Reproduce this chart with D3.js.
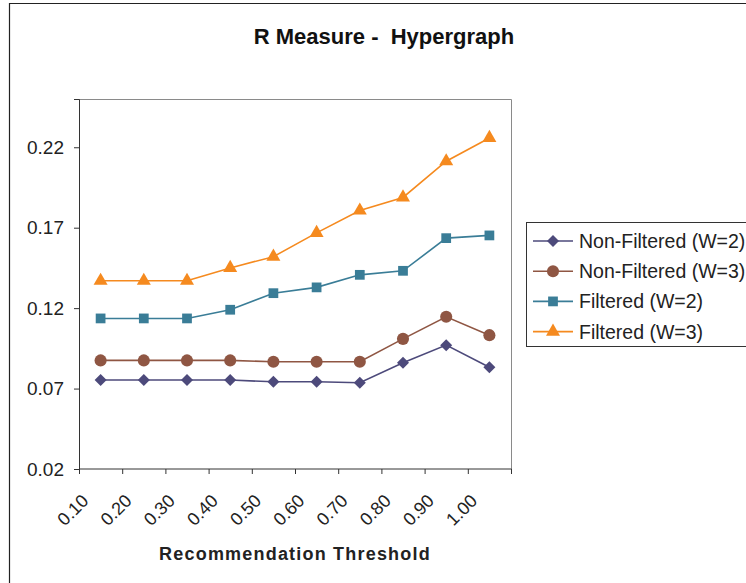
<!DOCTYPE html>
<html><head><meta charset="utf-8">
<script src="https://cdn.jsdelivr.net/npm/d3@7"></script>
<style>body{margin:0;background:#fff}svg{display:block;font-family:"Liberation Sans",Arial,sans-serif}</style>
</head><body>
<svg id="c" width="746" height="583"></svg>
<script>
const categories = ["0.10","0.20","0.30","0.40","0.50","0.60","0.70","0.80","0.90","1.00"];
const yTicks = [0.02,0.07,0.12,0.17,0.22];
const seriesNames = ["Non-Filtered (W=2)","Non-Filtered (W=3)","Filtered (W=2)","Filtered (W=3)"];
const nonFilteredW2 = [0.0753,0.0753,0.0753,0.0753,0.0742,0.0742,0.0736,0.0860,0.0970,0.0832];
const nonFilteredW3 = [0.0875,0.0875,0.0875,0.0875,0.0867,0.0867,0.0867,0.1009,0.1146,0.1032];
const filteredW2 = [0.1136,0.1136,0.1136,0.1190,0.1293,0.1329,0.1407,0.1432,0.1635,0.1652];
const filteredW3 = [0.1370,0.1370,0.1370,0.1450,0.1520,0.1668,0.1807,0.1888,0.2113,0.2258];
const colors = ["#4D4A7B","#8F5643","#3A7D97","#F58A1F"];
const shapes = [d3.symbolSquare, d3.symbolCircle, d3.symbolSquare, d3.symbolTriangle];
const rots = [45, 0, 0, 0];
const sizes = [72, 115, 95, 85];
const allSeries = [nonFilteredW2, nonFilteredW3, filteredW2, filteredW3];

const svg = d3.select("#c");
const L = 79, R = 511, T = 99, B = 469;

// outer frame
svg.append("path").attr("d","M9.5,600 V3.5 H760").attr("fill","none").attr("stroke","#222").attr("stroke-width",1.2);

svg.append("text").attr("x",384).attr("y",44).attr("text-anchor","middle")
  .attr("font-size",22).attr("font-weight","bold").attr("fill","#111")
  .style("white-space","pre").text("R Measure -  Hypergraph");

const x = d3.scaleBand().domain(categories).range([L,R]).padding(0);
const y = d3.scaleLinear().domain([0.02,0.25]).range([B,T]);

// plot area border
svg.append("path").attr("d",`M${L},${T+0.5} H${R+0.5} V${B}`).attr("fill","none").attr("stroke","#8a8a8a").attr("stroke-width",1);

// y axis
const ya = svg.append("g").attr("transform",`translate(${L},0)`)
  .call(d3.axisLeft(y).tickValues(yTicks).tickFormat(d3.format(".2f")).tickSize(5).tickPadding(10));
ya.select(".domain").attr("stroke","#333");
ya.selectAll(".tick line").attr("stroke","#333");
ya.selectAll("text").attr("font-size",19).attr("fill","#222").attr("font-family","Liberation Sans, Arial, sans-serif");

// x axis with ticks at band boundaries
const xa = svg.append("g").attr("transform",`translate(0,${B})`);
xa.append("line").attr("x1",L).attr("x2",R+0.5).attr("stroke","#333");
const bounds = categories.map(c=>x(c)).concat([R]);
xa.selectAll("line.t").data(bounds).join("line").attr("class","t")
  .attr("x1",d=>d+0.5).attr("x2",d=>d+0.5).attr("y1",0).attr("y2",5).attr("stroke","#333");
xa.selectAll("text").data(categories).join("text")
  .attr("transform",d=>`translate(${x(d)+x.bandwidth()/2-11},${33}) rotate(-45)`)
  .attr("text-anchor","end").attr("font-size",18).attr("fill","#222").text(d=>d);

svg.append("text").attr("x",295).attr("y",560).attr("text-anchor","middle")
  .attr("font-size",18).attr("font-weight","bold").attr("fill","#222")
  .style("letter-spacing","1.2px").text("Recommendation Threshold");

// series
const line = d3.line().x((d,i)=>x(categories[i])+x.bandwidth()/2).y(d=>y(d));
allSeries.forEach((s,k)=>{
  svg.append("path").datum(s).attr("d",line).attr("fill","none").attr("stroke",colors[k]).attr("stroke-width",1.6);
  svg.selectAll(null).data(s).join("path")
    .attr("transform",(d,i)=>`translate(${x(categories[i])+x.bandwidth()/2},${y(d)}) rotate(${rots[k]})`)
    .attr("d",d3.symbol().type(shapes[k]).size(sizes[k])).attr("fill",colors[k]);
});

// legend
const lg = svg.append("g");
lg.append("rect").attr("x",526.5).attr("y",222.5).attr("width",260).attr("height",124).attr("fill","#fff").attr("stroke","#333");
seriesNames.forEach((n,k)=>{
  const yy = 241 + k*30.2;
  lg.append("line").attr("x1",533).attr("x2",573).attr("y1",yy).attr("y2",yy).attr("stroke",colors[k]).attr("stroke-width",1.6);
  lg.append("path").attr("transform",`translate(553,${yy}) rotate(${rots[k]})`).attr("d",d3.symbol().type(shapes[k]).size(sizes[k])).attr("fill",colors[k]);
  lg.append("text").attr("x",579).attr("y",yy+7).attr("font-size",19.5).attr("fill","#222").text(n);
});
</script>
</body></html>
